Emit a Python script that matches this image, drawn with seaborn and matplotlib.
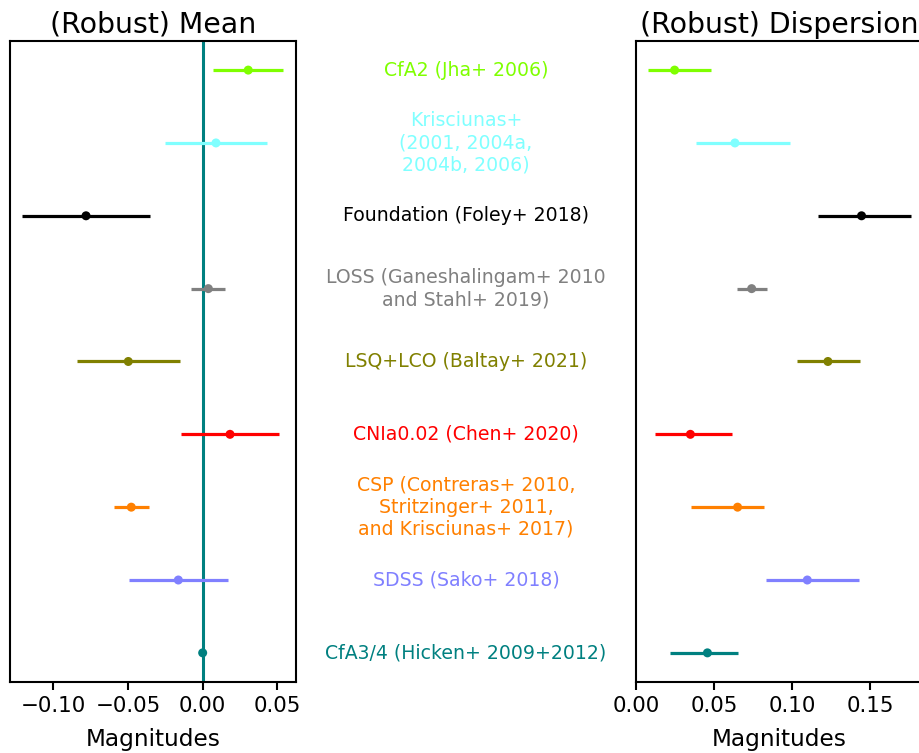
import matplotlib
matplotlib.use("Agg")
import matplotlib.pyplot as plt
import numpy as np
import pandas as pd
import seaborn as sns

sns.set_style("ticks")
plt.rcParams.update({
    "font.family": ["DejaVu Sans"],
    "text.color": "black",
    "axes.labelcolor": "black",
    "xtick.color": "black",
    "axes.unicode_minus": True,
})

# ---------------------------------------------------------------- data
labels = [
    "CfA2 (Jha+ 2006)",
    "Krisciunas+\n(2001, 2004a,\n2004b, 2006)",
    "Foundation (Foley+ 2018)",
    "LOSS (Ganeshalingam+ 2010\nand Stahl+ 2019)",
    "LSQ+LCO (Baltay+ 2021)",
    "CNIa0.02 (Chen+ 2020)",
    "CSP (Contreras+ 2010,\nStritzinger+ 2011,\nand Krisciunas+ 2017)",
    "SDSS (Sako+ 2018)",
    "CfA3/4 (Hicken+ 2009+2012)",
]
colors = ["#7fff00", "#80ffff", "#000000", "#808080", "#808000",
          "#ff0000", "#ff8000", "#8080ff", "#008080"]

mean_val = [0.0305, 0.0089, -0.0781, 0.0038, -0.0498, 0.0183, -0.0478, -0.0163, 0.0]
mean_err = [0.0236, 0.0340, 0.0430, 0.0113, 0.0346, 0.0325, 0.0116, 0.0332, 0.0]

disp_val = [0.0247, 0.0633, 0.1443, 0.0740, 0.1228, 0.0348, 0.0650, 0.1096, 0.0457]
disp_lo = [0.0080, 0.0382, 0.1166, 0.0646, 0.1027, 0.0119, 0.0354, 0.0834, 0.0219]
disp_hi = [0.0483, 0.0986, 0.1758, 0.0836, 0.1436, 0.0616, 0.0821, 0.1425, 0.0654]

rows = np.arange(len(labels))
df = pd.DataFrame({"sample": labels, "row": rows, "mean": mean_val,
                   "mean_err": mean_err, "disp": disp_val,
                   "disp_lo": disp_lo, "disp_hi": disp_hi})
palette = dict(zip(labels, colors))

# ---------------------------------------------------------------- figure
fig = plt.figure(figsize=(9.2, 7.53), dpi=100)
axL = fig.add_axes([0.01087, 0.0943, 0.3109, 0.8513])
axR = fig.add_axes([0.6913, 0.0943, 0.3109, 0.8513])

axL.axvline(0, color="#008080", lw=2.2, zorder=1)
for _, r in df.iterrows():
    c = palette[r["sample"]]
    if r["mean_err"] > 0:
        axL.errorbar(r["mean"], r["row"], xerr=r["mean_err"], fmt="none",
                     ecolor=c, elinewidth=2.3, zorder=2)
    axR.errorbar(r["disp"], r["row"],
                 xerr=[[r["disp"] - r["disp_lo"]], [r["disp_hi"] - r["disp"]]],
                 fmt="none", ecolor=c, elinewidth=2.3, zorder=2)

sns.scatterplot(data=df, x="mean", y="row", hue="sample", palette=palette,
                s=42, edgecolor="none", legend=False, ax=axL, zorder=3)
sns.scatterplot(data=df, x="disp", y="row", hue="sample", palette=palette,
                s=42, edgecolor="none", legend=False, ax=axR, zorder=3)

axL.set_xlim(-0.129, 0.0625)
axR.set_xlim(0.0, 0.183)
axL.set_xticks([-0.10, -0.05, 0.00, 0.05])
axR.set_xticks([0.00, 0.05, 0.10, 0.15])

for ax, title in [(axL, "(Robust) Mean"), (axR, "(Robust) Dispersion")]:
    ax.set_ylim(len(labels) - 0.6, -0.4)
    ax.set_yticks([])
    ax.set_ylabel("")
    ax.set_xlabel("Magnitudes", fontsize=16.7, labelpad=9)
    ax.set_title(title, fontsize=20.4, pad=6)
    ax.tick_params(axis="x", labelsize=15.4, length=6, width=1.5,
                   direction="out", pad=4)
    for sp in ax.spines.values():
        sp.set_visible(True)
        sp.set_linewidth(1.5)
        sp.set_color("black")

# sample names between the panels, aligned with the rows
for _, r in df.iterrows():
    y_fig = fig.transFigure.inverted().transform(
        axL.transData.transform((0, r["row"])))[1]
    fig.text(466 / 920, y_fig, r["sample"], color=palette[r["sample"]],
             fontsize=13.6, ha="center", va="center", multialignment="center")

fig.savefig("out.png", dpi=100)
